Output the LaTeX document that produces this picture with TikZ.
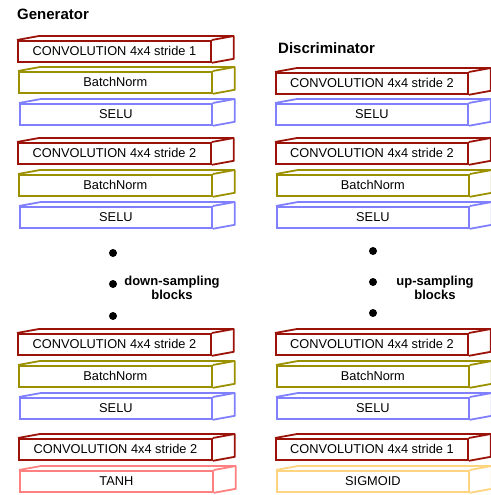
\documentclass[tikz,border=0pt]{standalone}
\usepackage{fontspec}
\setmainfont{Liberation Sans}
\usetikzlibrary{calc}
\definecolor{cdred}{RGB}{155,18,8}
\definecolor{colive}{RGB}{155,145,0}
\definecolor{cblue}{RGB}{128,128,255}
\definecolor{cpink}{RGB}{255,128,128}
\definecolor{corange}{RGB}{255,212,128}
\tikzset{
  blk/.style={draw, line width=1.8pt, minimum height=21pt, inner sep=0pt,
    anchor=north west, font=\fontsize{12.8}{14}\selectfont},
  edge/.style={line width=1.8pt, line join=round},
  title/.style={font=\bfseries\fontsize{15}{17}\selectfont, anchor=west, inner sep=0pt},
  dotm/.style={circle, fill=black, minimum size=8pt, inner sep=0pt},
  lbl/.style={font=\bfseries\fontsize{13}{13.5}\selectfont, align=center, inner sep=0pt}
}
\newcommand\cubeblk[6]{%
  \node[blk, draw=#5, minimum width=#4pt] (#1) at (#2,#3) {#6};
  \draw[#5, edge] (#1.north west) -- ++(22,-4) -- ($(#1.north east)+(22,-4)$)
     -- ($(#1.south east)+(22,-4)$) -- (#1.south east);
  \draw[#5, edge] (#1.north east) -- ++(22,-4);}
\begin{document}
\begin{tikzpicture}[x=1pt, y=-1pt]
\useasboundingbox (0,0) rectangle (490,495);
% Generator
\node[title] (gt) at (17,14) {Generator};
\cubeblk{g1}{17}{40}{193}{cdred}{CONVOLUTION 4x4 stride 1}
\cubeblk{g2}{18}{71}{193}{colive}{BatchNorm}
\cubeblk{g3}{19}{103}{192}{cblue}{SELU}
\cubeblk{g4}{17}{142}{193}{cdred}{CONVOLUTION 4x4 stride 2}
\cubeblk{g5}{18}{174}{193}{colive}{BatchNorm}
\cubeblk{g6}{19}{206}{192}{cblue}{SELU}
\node[dotm] (gd1) at (113,253) {};
\node[dotm] (gd2) at (113,284) {};
\node[dotm] (gd3) at (113,316) {};
\node[lbl] (gl) at (172,288) {down-sampling\\blocks};
\cubeblk{g7}{17}{333}{193}{cdred}{CONVOLUTION 4x4 stride 2}
\cubeblk{g8}{18}{365}{193}{colive}{BatchNorm}
\cubeblk{g9}{19}{397}{192}{cblue}{SELU}
\cubeblk{g10}{18}{438}{193}{cdred}{CONVOLUTION 4x4 stride 2}
\cubeblk{g11}{19}{470}{193}{cpink}{TANH}
% Discriminator
\node[title] (dt) at (278,48) {Discriminator};
\cubeblk{d1}{275}{72}{192}{cdred}{CONVOLUTION 4x4 stride 2}
\cubeblk{d2}{275}{103}{192}{cblue}{SELU}
\cubeblk{d3}{275}{142}{192}{cdred}{CONVOLUTION 4x4 stride 2}
\cubeblk{d4}{276}{174}{192}{colive}{BatchNorm}
\cubeblk{d5}{276}{206}{192}{cblue}{SELU}
\node[dotm] (dd1) at (373,251) {};
\node[dotm] (dd2) at (373,282) {};
\node[dotm] (dd3) at (373,313) {};
\node[lbl] (dl) at (435,288) {up-sampling\\blocks};
\cubeblk{d6}{275}{333}{192}{cdred}{CONVOLUTION 4x4 stride 2}
\cubeblk{d7}{276}{365}{192}{colive}{BatchNorm}
\cubeblk{d8}{276}{397}{192}{cblue}{SELU}
\cubeblk{d9}{275}{438}{192}{cdred}{CONVOLUTION 4x4 stride 1}
\cubeblk{d10}{276}{470}{192}{corange}{SIGMOID}
\end{tikzpicture}
\end{document}
